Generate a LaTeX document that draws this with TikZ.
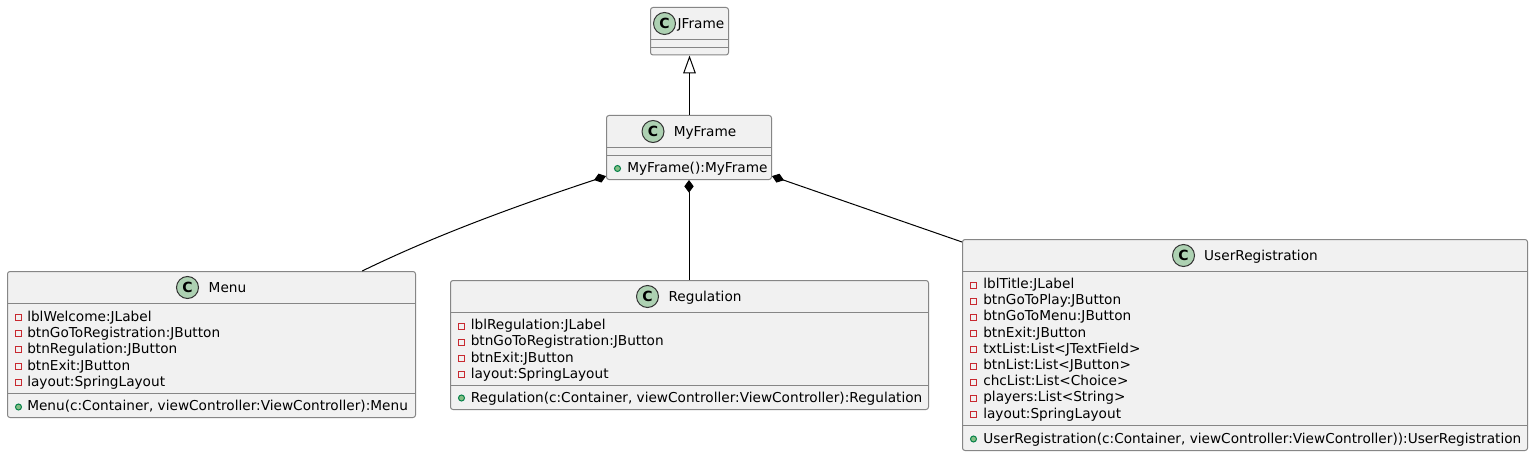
\documentclass[tikz,border=0pt]{standalone}
\usepackage{fontspec}
\setmainfont{DejaVu Sans}
\usetikzlibrary{arrows.meta}
\definecolor{boxfill}{HTML}{F1F1F1}
\definecolor{boxline}{HTML}{868686}
\definecolor{iconfill}{HTML}{ADD1B2}
\definecolor{privred}{HTML}{C82930}
\definecolor{pubgreen}{HTML}{84BE84}
\definecolor{publine}{HTML}{038048}
\tikzset{
  classbox/.style={draw=boxline,fill=boxfill,line width=.75pt,rounded corners=2.5*.75pt,inner sep=0pt,minimum width=#1},
  sep/.style={draw=boxline,line width=.75pt},
  txt/.style={inner sep=0pt,anchor=base west,font=\fontsize{10.25pt}{12pt}\selectfont,text=black},
  titletxt/.style={inner sep=0pt,anchor=base,font=\fontsize{10.25pt}{12pt}\selectfont,text=black},
  icon/.style={circle,draw=black!80,fill=iconfill,line width=.75pt,minimum size=16.5pt,inner sep=0pt,font=\fontsize{10.5pt}{12pt}\selectfont\bfseries},
  priv/.style={rectangle,draw=privred,fill=boxfill,line width=.75pt,minimum size=4.5pt,inner sep=0pt},
  pub/.style={circle,draw=publine,fill=pubgreen,line width=.75pt,minimum size=4.5pt,inner sep=0pt},
  conn/.style={draw=black,line width=.75pt},
  comp/.style={conn,{Diamond[length=9.5pt,width=7pt,fill=black]}-},
  ext/.style={conn,-{Triangle[open,length=13.5pt,width=9.5pt,fill=white]}}
}
\newcommand{\classbox}[5]{% name, x0, y0, x1, y1
  \node[classbox={(#4-#2)*.75pt},minimum height={(#5-#3)*.75pt}] (#1) at ({(#2+#4)/2},{(#3+#5)/2}) {};
}
\begin{document}
\begin{tikzpicture}[x=.75pt,y=-.75pt]
\useasboundingbox[fill=white] (0,0) rectangle (1533,456);
% boxes
\classbox{jframe}{650.5}{7.5}{728.5}{55}
\classbox{myframe}{606.5}{115.5}{771.5}{179.5}
\classbox{menu}{7.5}{271.5}{415.5}{417.5}
\classbox{regulation}{450.5}{280.5}{928.5}{409.5}
\classbox{userreg}{962.5}{239.5}{1527.5}{450.5}
% separators
\draw[sep] (jframe.west |- 0,39.5) -- (jframe.east |- 0,39.5);
\draw[sep] (jframe.west |- 0,47.5) -- (jframe.east |- 0,47.5);
\draw[sep] (myframe.west |- 0,147.5) -- (myframe.east |- 0,147.5);
\draw[sep] (myframe.west |- 0,155.5) -- (myframe.east |- 0,155.5);
\draw[sep] (menu.west |- 0,303.5) -- (menu.east |- 0,303.5);
\draw[sep] (menu.west |- 0,393.5) -- (menu.east |- 0,393.5);
\draw[sep] (regulation.west |- 0,312.5) -- (regulation.east |- 0,312.5);
\draw[sep] (regulation.west |- 0,385.5) -- (regulation.east |- 0,385.5);
\draw[sep] (userreg.west |- 0,271.5) -- (userreg.east |- 0,271.5);
\draw[sep] (userreg.west |- 0,425.5) -- (userreg.east |- 0,425.5);
% icons
\node[icon] (iconj) at (664.5,23.5) {C};
\node[icon] (iconf) at (653,131.5) {C};
\node[icon] (iconm) at (187.5,287.5) {C};
\node[icon] (iconr) at (647.5,296.5) {C};
\node[icon] (iconu) at (1183.5,255.5) {C};
% titles
\node[titletxt] (tj) at (701,28.5) {JFrame};
\node[titletxt] (tf) at (705,136.5) {MyFrame};
\node[titletxt] (tm) at (227.5,292.5) {Menu};
\node[titletxt] (tr) at (705,301.5) {Regulation};
\node[titletxt] (tu) at (1261,260.5) {UserRegistration};
% MyFrame
\node[pub] (pf) at (617.5,168.5) {};
\node[txt] (mf) at (627,172.5) {MyFrame():MyFrame};
% Menu
\foreach \t [count=\i] in {lblWelcome:JLabel,btnGoToRegistration:JButton,btnRegulation:JButton,btnExit:JButton,layout:SpringLayout}{
  \node[priv] (pm\i) at (18.5,{317.5+(\i-1)*16.2}) {};
  \node[txt] (am\i) at (27,{321.5+(\i-1)*16.2}) {\t};
}
\node[pub] (pmm) at (18.5,407) {};
\node[txt] (mm) at (27,410.5) {Menu(c:Container, viewController:ViewController):Menu};
% Regulation
\foreach \t [count=\i] in {lblRegulation:JLabel,btnGoToRegistration:JButton,btnExit:JButton,layout:SpringLayout}{
  \node[priv] (pr\i) at (461.5,{326+(\i-1)*16.3}) {};
  \node[txt] (ar\i) at (470.5,{329.5+(\i-1)*16.3}) {\t};
}
\node[pub] (prm) at (461.5,398) {};
\node[txt] (mr) at (470.5,402) {Regulation(c:Container, viewController:ViewController):Regulation};
% UserRegistration
\foreach \t [count=\i] in {lblTitle:JLabel,btnGoToPlay:JButton,btnGoToMenu:JButton,btnExit:JButton,txtList:List<JTextField>,btnList:List<JButton>,chcList:List<Choice>,players:List<String>,layout:SpringLayout}{
  \node[priv] (pu\i) at (973.5,{285+(\i-1)*16.2}) {};
  \node[txt] (au\i) at (983,{288.5+(\i-1)*16.2}) {\t};
}
\node[pub] (pum) at (973.5,439) {};
\node[txt] (mu) at (983,443) {UserRegistration(c:Container, viewController:ViewController)):UserRegistration};
% connectors
\draw[ext] (myframe.north -| jframe.south) -- (jframe.south);
\draw[comp] (myframe.199) .. controls (525,203) and (440,233) .. (menu.26.5);
\draw[comp] (myframe.south) -- (regulation.north -| myframe.south);
\draw[comp] (myframe.-19) -- (userreg.160.2);
\end{tikzpicture}
\end{document}
